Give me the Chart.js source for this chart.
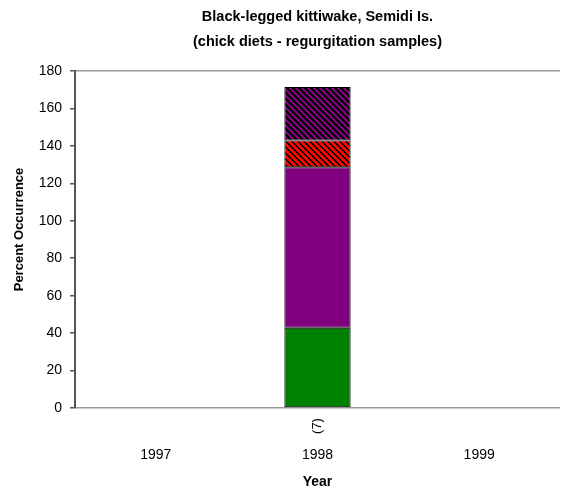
<!DOCTYPE html>
<html>
<head>
<meta charset="utf-8">
<script src="https://cdn.jsdelivr.net/npm/chart.js@4"></script>
<style>
  html, body { margin: 0; padding: 0; background: #fff; }
  #wrap { width: 561px; height: 495px; }
</style>
</head>
<body>
<div id="wrap"><canvas id="dietChart" width="561" height="495"></canvas></div>
<script>
const years = ['1997', '1998', '1999'];
const sampleSizes = ['', '(7)', ''];
const preyGreen = [0, 42.9, 0];
const preyPurple = [0, 85.7, 0];
const preyRedHatch = [0, 14.3, 0];
const preyPurpleHatch = [0, 28.6, 0];
const yTicks = [0, 20, 40, 60, 80, 100, 120, 140, 160, 180];

function makeHatch(base, stripe, size, width) {
  const tile = document.createElement('canvas');
  tile.width = size;
  tile.height = size;
  const tctx = tile.getContext('2d');
  tctx.fillStyle = base;
  tctx.fillRect(0, 0, size, size);
  tctx.fillStyle = stripe;
  for (let x = 0; x < size; x++) {
    for (let y = 0; y < size; y++) {
      if ((((x - y) % size) + size) % size < width) {
        tctx.fillRect(x, y, 1, 1);
      }
    }
  }
  return document.getElementById('dietChart').getContext('2d').createPattern(tile, 'repeat');
}

const family = '"Liberation Sans", Arial, sans-serif';

// sample sizes written sideways under each bar, plus the y title
const extraLabels = {
  id: 'extraLabels',
  afterDraw(chart) {
    const { ctx, chartArea, scales } = chart;
    ctx.save();
    ctx.fillStyle = '#000';
    ctx.textAlign = 'center';
    ctx.textBaseline = 'middle';
    ctx.font = `13px ${family}`;
    sampleSizes.forEach((label, i) => {
      if (!label) {
        return;
      }
      const x = scales.x.getPixelForValue(i);
      ctx.save();
      ctx.translate(x, chartArea.bottom + 18);
      ctx.rotate(-Math.PI / 2);
      ctx.fillText(label, 0, 0);
      ctx.restore();
    });

    ctx.font = `bold 13px ${family}`;
    ctx.translate(19, chartArea.top + (chartArea.bottom - chartArea.top) / 2 - 10);
    ctx.rotate(-Math.PI / 2);
    ctx.fillText('Percent Occurrence', 0, 0);
    ctx.restore();
  },
};

new Chart(document.getElementById('dietChart'), {
  type: 'bar',
  data: {
    labels: years,
    datasets: [
      { label: 'Prey A', data: preyGreen, backgroundColor: '#008000' },
      { label: 'Prey B', data: preyPurple, backgroundColor: '#800080' },
      { label: 'Prey C', data: preyRedHatch, backgroundColor: makeHatch('#ff0000', '#000000', 6, 2) },
      { label: 'Prey D', data: preyPurpleHatch, backgroundColor: makeHatch('#800080', '#000000', 6, 3) },
    ].map((ds) => ({
      ...ds,
      borderColor: '#000',
      borderWidth: 1,
      borderSkipped: false,
      categoryPercentage: 1,
      barPercentage: 0.41,
    })),
  },
  options: {
    responsive: false,
    animation: false,
    devicePixelRatio: 1,
    layout: { padding: { left: 0, right: 1, top: 0, bottom: 0 } },
    plugins: {
      legend: { display: false },
      tooltip: { enabled: false },
      title: {
        display: true,
        fullSize: false,
        text: ['Black-legged kittiwake, Semidi Is.', '(chick diets - regurgitation samples)'],
        color: '#000',
        font: { family, size: 14.5, weight: 'bold', lineHeight: '25px' },
        padding: { top: 4.5, bottom: 16.5 },
      },
    },
    scales: {
      x: {
        stacked: true,
        afterFit(scale) {
          scale.height = 87;
        },
        grid: { display: false },
        border: { display: false },
        ticks: { color: '#000', font: { family, size: 14 }, padding: 31, maxRotation: 0 },
        title: {
          display: true,
          text: 'Year',
          color: '#000',
          font: { family, size: 14, weight: 'bold' },
          padding: { top: 0, bottom: 4.5 },
        },
      },
      y: {
        stacked: true,
        min: 0,
        max: 180,
        afterBuildTicks(scale) {
          scale.ticks = yTicks.map((value) => ({ value }));
        },
        afterFit(scale) {
          scale.width = 75;
        },
        border: { display: true, color: '#555', width: 2 },
        grid: {
          color: (c) => (c.tick && (c.tick.value === 0 || c.tick.value === 180) ? '#999' : 'rgba(0,0,0,0)'),
          tickColor: '#555',
          tickLength: 5,
          lineWidth: 1.5,
        },
        ticks: { color: '#000', font: { family, size: 14 }, padding: 8 },
      },
    },
  },
  plugins: [extraLabels],
});
</script>
</body>
</html>
